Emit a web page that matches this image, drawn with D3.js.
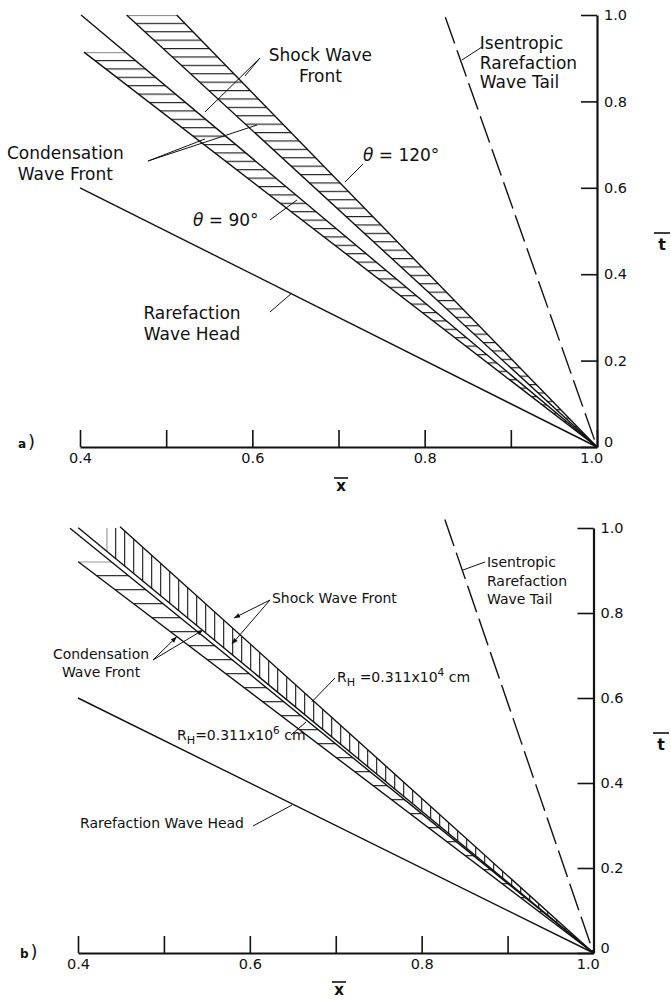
<!DOCTYPE html>
<html>
<head>
<meta charset="utf-8">
<script src="https://cdn.jsdelivr.net/npm/d3@7"></script>
<style>
  body { margin: 0; background: #fff; }
  svg { display: block; }
  text { font-family: "DejaVu Sans", sans-serif; fill: #111; }
</style>
</head>
<body>
<div id="chart"></div>
<script>
// ticks
var xTicks = [0.4, 0.5, 0.6, 0.7, 0.8, 0.9, 1.0];
var xTickLabels = ["0.4", "", "0.6", "", "0.8", "", "1.0"];
var yTicks = [0, 0.2, 0.4, 0.6, 0.8, 1.0];
var yTickLabels = ["0", "0.2", "0.4", "0.6", "0.8", "1.0"];

// panel a) lines as [x, t] end points, all meeting at (1, 0)
var headA = [[0.4, 0.60], [1.0, 0]];
var tailA = [[0.824, 0.995], [1.0, 0]];
var cond90 = [[0.4046, 0.914], [1.0, 0]];
var shock90 = [[0.4012, 1.0], [1.0, 0]];
var cond120 = [[0.4541, 1.0], [1.0, 0]];
var shock120 = [[0.5122, 1.0], [1.0, 0]];

// panel b)
var headB = [[0.4, 0.60], [1.0, 0]];
var tailB = [[0.827, 1.02], [1.0, 0]];
var cond6 = [[0.4003, 0.9207], [1.0, 0]];
var shock6 = [[0.3907, 0.9993], [1.0, 0]];
var cond4 = [[0.4003, 1.0007], [1.0, 0]];
var shock4 = [[0.4489, 1.003], [1.0, 0]];

var W = 671, H = 1000;
var svg = d3.select("#chart").append("svg").attr("width", W).attr("height", H);
var defs = svg.append("defs");

defs.append("marker").attr("id", "arrow")
  .attr("viewBox", "0 0 10 10").attr("refX", 10).attr("refY", 5)
  .attr("markerWidth", 9).attr("markerHeight", 6)
  .attr("markerUnits", "userSpaceOnUse").attr("orient", "auto")
  .append("path").attr("d", "M0,1 L10,5 L0,9 z").attr("fill", "#111");

function xOf(l, t) { return l[0][0] + (t - l[0][1]) * (l[1][0] - l[0][0]) / (l[1][1] - l[0][1]); }
function tOf(l, v) { return l[0][1] + (v - l[0][0]) * (l[1][1] - l[0][1]) / (l[1][0] - l[0][0]); }

var panels = [
  {
    id: "a", tag: "a",
    xRange: [80, 597], yRange: [447, 15],
    font: 17, lh: 21,
    lines: [
      {pts: headA}, {pts: tailA, dash: "28,7"},
      {pts: cond90}, {pts: shock90}, {pts: cond120}, {pts: shock120}
    ],
    bands: [
      {lower: cond90, upper: shock90, top: 0.914, hatch: "h", step: 8.4},
      {lower: cond120, upper: shock120, top: 1.0, hatch: "h", step: 8.4}
    ],
    labels: [
      {lines: ["Shock Wave", "Front"], x: 0.679, t: 0.894, anchor: "middle"},
      {lines: ["Condensation", "Wave Front"], x: 0.383, t: 0.667, anchor: "middle"},
      {lines: ["Isentropic", "Rarefaction", "Wave Tail"], x: 0.864, t: 0.921, anchor: "start", lh: 19.5},
      {lines: ["Rarefaction", "Wave Head"], x: 0.530, t: 0.296, anchor: "middle"},
      {theta: " = 120°", x: 0.7284, t: 0.662},
      {theta: " = 90°", x: 0.5311, t: 0.5116}
    ],
    leaders: [
      [[0.6089, 0.9005], [0.5915, 0.8588]], [[0.6089, 0.9005], [0.5451, 0.7755]],
      [[0.4789, 0.662], [0.6054, 0.7454]], [[0.4789, 0.662], [0.5451, 0.713]],
      [[0.7284, 0.655], [0.7075, 0.6134]],
      [[0.6205, 0.5255], [0.6518, 0.5718]],
      [[0.8665, 0.9259], [0.8433, 0.8958]],
      [[0.6205, 0.3125], [0.646, 0.3565]]
    ],
    xLab: [341, 491], tLab: [662, 250], tagPos: [18, 448]
  },
  {
    id: "b", tag: "b",
    xRange: [78, 593.5], yRange: [953, 528],
    font: 14, lh: 18.5,
    lines: [
      {pts: headB}, {pts: tailB, dash: "28,7"},
      {pts: cond6}, {pts: shock6}, {pts: cond4}, {pts: shock4}
    ],
    bands: [
      {lower: cond6, upper: shock6, top: 0.9207, hatch: "h", step: 14},
      {lower: cond4, upper: shock4, top: 1.0, xStart: 0.4334, hatch: "v", step: 9}
    ],
    labels: [
      {lines: ["Shock Wave Front"], x: 0.6258, t: 0.8235, anchor: "start"},
      {lines: ["Condensation", "Wave Front"], x: 0.4268, t: 0.6918, anchor: "middle", lh: 18},
      {lines: ["Isentropic", "Rarefaction", "Wave Tail"], x: 0.876, t: 0.9082, anchor: "start"},
      {lines: ["Rarefaction  Wave Head"], x: 0.4023, t: 0.2941, anchor: "start"},
      {rh: "4", gap: " ", x: 0.7015, t: 0.6376},
      {rh: "6", gap: "", x: 0.5152, t: 0.5012}
    ],
    leaders: [
      [[0.6235, 0.8306], [0.5816, 0.7882], 1], [[0.6235, 0.8306], [0.5792, 0.7271], 1],
      [[0.4873, 0.6894], [0.5149, 0.7442], 1], [[0.4873, 0.6894], [0.5455, 0.76], 1],
      [[0.6991, 0.647], [0.672, 0.5906]],
      [[0.6479, 0.5129], [0.6654, 0.5435]],
      [[0.8737, 0.92], [0.8481, 0.9012]],
      [[0.6037, 0.2988], [0.6491, 0.3482]]
    ],
    xLab: [339, 995], tLab: [661, 750], tagPos: [20, 958]
  }
];

panels.forEach(function(p) {
  var x = d3.scaleLinear().domain([0.4, 1.0]).range(p.xRange);
  var y = d3.scaleLinear().domain([0, 1]).range(p.yRange);
  var g = svg.append("g");
  var line = d3.line().x(function(d) { return x(d[0]); }).y(function(d) { return y(d[1]); });

  // hatched bands
  p.bands.forEach(function(b, i) {
    var id = "hatch-" + p.id + i;
    var pat = defs.append("pattern").attr("id", id).attr("patternUnits", "userSpaceOnUse");
    var hl = pat.append("line").attr("stroke", "#111").attr("stroke-width", 1.1);
    if (b.hatch === "h") {
      pat.attr("width", 20).attr("height", b.step).attr("x", 0).attr("y", y(b.top) - 0.6);
      hl.attr("x1", 0).attr("x2", 20).attr("y1", 0.6).attr("y2", 0.6);
    } else {
      pat.attr("width", b.step).attr("height", 20).attr("y", 0).attr("x", x(b.xStart) - 0.6);
      hl.attr("y1", 0).attr("y2", 20).attr("x1", 0.6).attr("x2", 0.6);
    }
    var pts = b.xStart
      ? [[b.xStart, tOf(b.lower, b.xStart)], [b.xStart, b.top], [xOf(b.upper, b.top), b.top]]
      : [[xOf(b.lower, b.top), b.top], [xOf(b.upper, b.top), b.top]];
    pts.push(b.lower[1]);
    g.append("path").attr("d", line(pts) + "Z").attr("fill", "url(#" + id + ")");
  });

  // wave lines
  p.lines.forEach(function(l) {
    g.append("path").attr("d", line(l.pts))
      .attr("fill", "none").attr("stroke", "#111").attr("stroke-width", 1.4)
      .attr("stroke-dasharray", l.dash || null);
  });

  // axes
  var ax = g.append("g").attr("transform", "translate(0," + y(0) + ")")
    .call(d3.axisBottom(x).tickValues(xTicks).tickSizeInner(-17).tickSizeOuter(0).tickPadding(6)
      .tickFormat(function(d, i) { return xTickLabels[i]; }));
  var ay = g.append("g").attr("transform", "translate(" + x(1) + ",0)")
    .call(d3.axisRight(y).tickValues(yTicks).tickSizeInner(-16).tickSizeOuter(0).tickPadding(7)
      .tickFormat(function(d, i) { return yTickLabels[i]; }));
  [ax, ay].forEach(function(a) {
    a.select(".domain").attr("stroke", "#111").attr("stroke-width", 2.2);
    a.selectAll(".tick line").attr("stroke", "#111").attr("stroke-width", 1.6);
    a.selectAll(".tick text").attr("font-family", "DejaVu Sans, sans-serif")
      .attr("font-size", 14.5).attr("fill", "#111");
  });
  // keep the "1.0" and "0" labels at the corner apart, as in the print
  ax.selectAll(".tick text").filter(function(d) { return d === 1; }).attr("dx", "-0.4em");
  ay.selectAll(".tick text").filter(function(d) { return d === 0; }).attr("dy", "-0.05em");

  // leaders
  p.leaders.forEach(function(d) {
    g.append("path").attr("d", line([d[0], d[1]]))
      .attr("fill", "none").attr("stroke", "#111").attr("stroke-width", 1)
      .attr("marker-end", d[2] ? "url(#arrow)" : null);
  });

  // labels
  p.labels.forEach(function(d) {
    var t = g.append("text").attr("x", x(d.x)).attr("y", y(d.t)).attr("font-size", p.font)
      .attr("text-anchor", d.anchor || "start");
    if (d.lines) {
      d.lines.forEach(function(s, i) {
        t.append("tspan").attr("x", x(d.x)).attr("dy", i ? (d.lh || p.lh) : 0).text(s);
      });
    } else if (d.theta) {
      t.append("tspan").attr("font-style", "italic").text("θ");
      t.append("tspan").text(d.theta);
    } else if (d.rh) {
      t.append("tspan").text("R");
      t.append("tspan").attr("font-size", p.font * 0.8).attr("dy", 4).text("H");
      t.append("tspan").attr("dy", -4).text(d.gap + "=0.311x10");
      t.append("tspan").attr("font-size", p.font * 0.75).attr("dy", -6).text(d.rh);
      t.append("tspan").attr("dy", 6).text(d.gap + " cm");
    }
  });

  // axis titles with overbars
  g.append("text").attr("x", p.xLab[0]).attr("y", p.xLab[1]).attr("font-size", 15)
    .attr("font-weight", "bold").attr("text-anchor", "middle").text("x");
  g.append("line").attr("x1", p.xLab[0] - 7).attr("x2", p.xLab[0] + 7)
    .attr("y1", p.xLab[1] - 13).attr("y2", p.xLab[1] - 13).attr("stroke", "#111").attr("stroke-width", 1.6);
  g.append("text").attr("x", p.tLab[0]).attr("y", p.tLab[1]).attr("font-size", 16)
    .attr("font-weight", "bold").attr("text-anchor", "middle").text("t");
  g.append("line").attr("x1", p.tLab[0] - 8).attr("x2", p.tLab[0] + 8)
    .attr("y1", p.tLab[1] - 17).attr("y2", p.tLab[1] - 17).attr("stroke", "#111").attr("stroke-width", 1.6);

  // panel tag
  var tg = g.append("text").attr("x", p.tagPos[0]).attr("y", p.tagPos[1]);
  tg.append("tspan").attr("font-size", 12).attr("font-weight", "bold").text(p.tag);
  tg.append("tspan").attr("font-size", 18).attr("dx", 2).text(")");
});
</script>
</body>
</html>
